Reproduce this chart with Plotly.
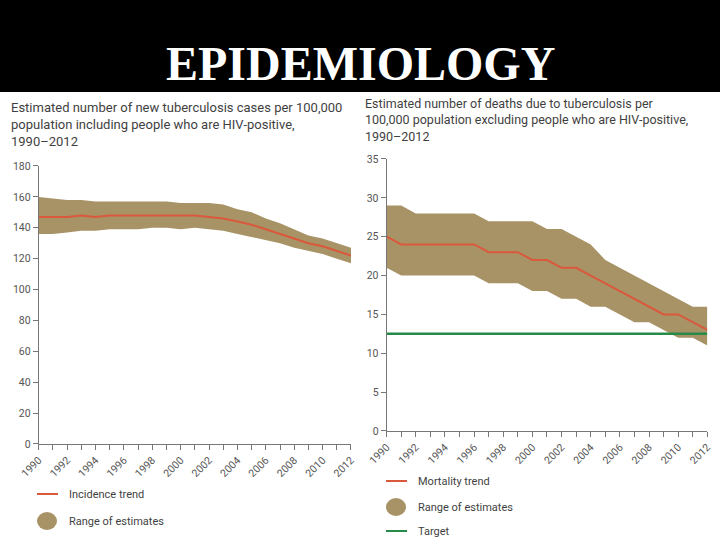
import plotly.graph_objects as go

years = list(range(1990, 2013))

# Incidence (per 100,000), incl. HIV-positive
inc_trend = [147, 147, 147, 148, 147, 148, 148, 148, 148, 148, 148, 148, 147, 146, 144, 142, 139, 136, 133, 130, 128, 125, 122]
inc_upper = [160, 159, 158, 158, 157, 157, 157, 157, 157, 157, 156, 156, 156, 155, 152, 150, 146, 143, 139, 135, 133, 130, 127]
inc_lower = [136, 136, 137, 138, 138, 139, 139, 139, 140, 140, 139, 140, 139, 138, 136, 134, 132, 130, 127, 125, 123, 120, 117]

# Mortality (per 100,000), excl. HIV-positive
mort_trend = [25, 24, 24, 24, 24, 24, 24, 23, 23, 23, 22, 22, 21, 21, 20, 19, 18, 17, 16, 15, 15, 14, 13]
mort_upper = [29, 29, 28, 28, 28, 28, 28, 27, 27, 27, 27, 26, 26, 25, 24, 22, 21, 20, 19, 18, 17, 16, 16]
mort_lower = [21, 20, 20, 20, 20, 20, 20, 19, 19, 19, 18, 18, 17, 17, 16, 16, 15, 14, 14, 13, 12, 12, 11]
mort_target = 12.5

left_title = "Estimated number of new tuberculosis cases per 100,000<br>population including people who are HIV-positive,<br>1990–2012"
right_title = "Estimated number of deaths due to tuberculosis per<br>100,000 population excluding people who are HIV-positive,<br>1990–2012"
left_legend = ["Incidence trend", "Range of estimates"]
right_legend = ["Mortality trend", "Range of estimates", "Target"]
x_tick_years = list(range(1990, 2013, 2))

FILL = "rgb(168,147,102)"
RED = "rgb(218,88,60)"
GREEN = "rgb(38,138,72)"
TXT = "#3f3f3f"
FONT = "Roboto"

fig = go.Figure()

def band(x, lo, hi, xa, ya):
    fig.add_trace(go.Scatter(x=x, y=hi, mode="lines", line=dict(width=0, color=FILL),
                             xaxis=xa, yaxis=ya, showlegend=False, hoverinfo="skip"))
    fig.add_trace(go.Scatter(x=x, y=lo, mode="lines", line=dict(width=0, color=FILL),
                             fill="tonexty", fillcolor=FILL,
                             xaxis=xa, yaxis=ya, showlegend=False, hoverinfo="skip"))

band(years, inc_lower, inc_upper, "x", "y")
fig.add_trace(go.Scatter(x=years, y=inc_trend, mode="lines", line=dict(color=RED, width=2),
                         xaxis="x", yaxis="y", showlegend=False))

band(years, mort_lower, mort_upper, "x2", "y2")
fig.add_trace(go.Scatter(x=[years[0], years[-1]], y=[mort_target, mort_target], mode="lines",
                         line=dict(color=GREEN, width=2.5), xaxis="x2", yaxis="y2", showlegend=False))
fig.add_trace(go.Scatter(x=years, y=mort_trend, mode="lines", line=dict(color=RED, width=2),
                         xaxis="x2", yaxis="y2", showlegend=False))

axis_common = dict(showgrid=False, zeroline=False, showline=True, linecolor="#777", linewidth=1,
                   ticks="outside", tickcolor="#777", ticklen=5, automargin=False,
                   tickfont=dict(family=FONT, size=10.5, color="#555"))

xcommon = dict(axis_common, range=[1990, 2012], tickvals=x_tick_years, ticktext=[str(v) for v in x_tick_years],
               tickangle=-45, minor=dict(dtick=1, tick0=1990, ticks="outside", ticklen=5, tickcolor="#777"))

fig.update_layout(
    width=720, height=540, margin=dict(l=0, r=0, t=0, b=0, pad=0),
    paper_bgcolor="white", plot_bgcolor="white",
    xaxis=dict(xcommon, domain=[0.0538, 0.4875], anchor="y"),
    yaxis=dict(axis_common, domain=[0.1778, 0.6926], range=[0, 180], dtick=20, anchor="x"),
    xaxis2=dict(xcommon, domain=[0.537, 0.9824], anchor="y2"),
    yaxis2=dict(axis_common, domain=[0.2019, 0.7056], range=[0, 35], dtick=5, anchor="x2"),
)

shapes = [dict(type="rect", xref="paper", yref="paper", x0=0, x1=1, y0=1 - 92 / 540, y1=1,
               fillcolor="black", line=dict(width=0), layer="below")]

def px(x):
    return x / 720

def py(y):
    return 1 - y / 540

annotations = [
    dict(text="<b>EPIDEMIOLOGY</b>", x=0.5, y=py(64), xref="paper", yref="paper", showarrow=False,
         font=dict(family="Liberation Serif", size=48, color="white"), xanchor="center", yanchor="middle"),
    dict(text=left_title, x=px(9), y=py(98), xref="paper", yref="paper", showarrow=False, align="left",
         xanchor="left", yanchor="top", font=dict(family=FONT, size=13, color=TXT)),
    dict(text=right_title, x=px(363), y=py(94), xref="paper", yref="paper", showarrow=False, align="left",
         xanchor="left", yanchor="top", font=dict(family=FONT, size=12.5, color=TXT)),
]

# legend items (left)
shapes.append(dict(type="line", xref="paper", yref="paper", x0=px(37), x1=px(58), y0=py(494), y1=py(494),
                   line=dict(color=RED, width=2)))
shapes.append(dict(type="circle", xref="paper", yref="paper", x0=px(37), x1=px(57), y0=py(530), y1=py(512),
                   fillcolor=FILL, line=dict(width=0)))
annotations.append(dict(text=left_legend[0], x=px(67), y=py(494), xref="paper", yref="paper", showarrow=False,
                        xanchor="left", yanchor="middle", font=dict(family=FONT, size=11, color=TXT)))
annotations.append(dict(text=left_legend[1], x=px(67), y=py(521), xref="paper", yref="paper", showarrow=False,
                        xanchor="left", yanchor="middle", font=dict(family=FONT, size=11, color=TXT)))

# legend items (right)
shapes.append(dict(type="line", xref="paper", yref="paper", x0=px(386), x1=px(407), y0=py(481), y1=py(481),
                   line=dict(color=RED, width=2)))
shapes.append(dict(type="circle", xref="paper", yref="paper", x0=px(386), x1=px(406), y0=py(516), y1=py(498),
                   fillcolor=FILL, line=dict(width=0)))
shapes.append(dict(type="line", xref="paper", yref="paper", x0=px(386), x1=px(407), y0=py(531), y1=py(531),
                   line=dict(color=GREEN, width=2)))
for i, yy in enumerate([481, 507, 531]):
    annotations.append(dict(text=right_legend[i], x=px(416), y=py(yy), xref="paper", yref="paper", showarrow=False,
                            xanchor="left", yanchor="middle", font=dict(family=FONT, size=11, color=TXT)))

fig.update_layout(shapes=shapes, annotations=annotations)
fig.write_html("out.html", config={"displayModeBar": False},
               post_script="document.body.style.margin='0';document.body.style.overflow='hidden';")
